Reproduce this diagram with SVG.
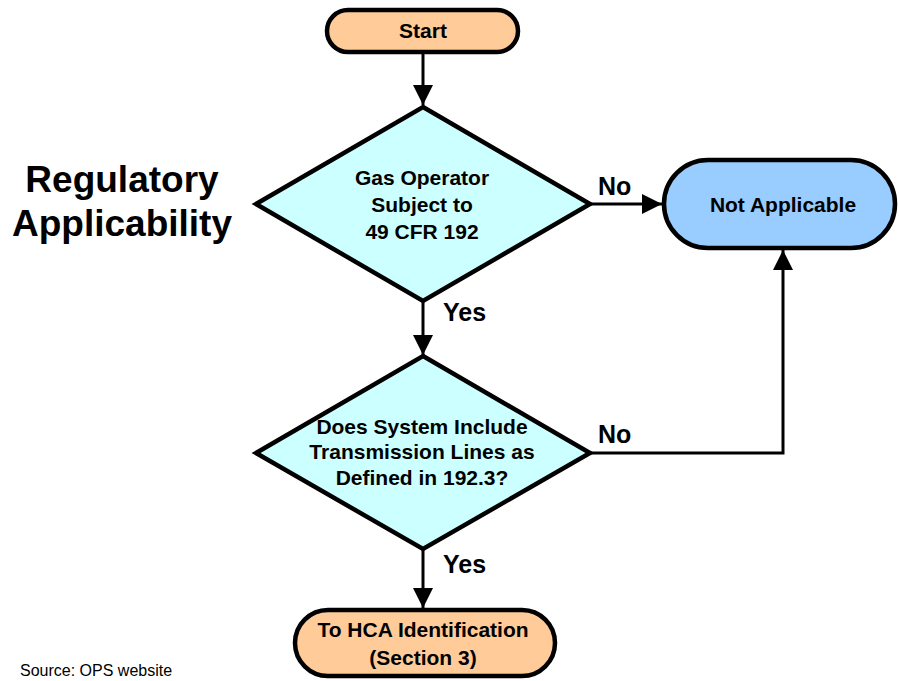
<svg xmlns="http://www.w3.org/2000/svg" width="899" height="681" viewBox="0 0 899 681">
  <style>
    .terminal-orange { fill: #FFCC99; stroke: #000; stroke-width: 4.5; }
    .terminal-blue { fill: #99CCFF; stroke: #000; stroke-width: 4.5; }
    .decision { fill: #CCFFFF; stroke: #000; stroke-width: 4.5; stroke-linejoin: miter; }
    .wire { fill: none; stroke: #000; stroke-width: 3; }
    .label { font-family: "Liberation Sans", Arial, sans-serif; font-weight: bold; font-size: 21px; fill: #000; text-anchor: middle; }
    .branch { font-family: "Liberation Sans", Arial, sans-serif; font-weight: bold; font-size: 25px; fill: #000; }
    .title { font-family: "Liberation Sans", Arial, sans-serif; font-weight: bold; font-size: 37px; fill: #000; text-anchor: middle; }
    .note { font-family: "Liberation Sans", Arial, sans-serif; font-size: 16px; fill: #000; }
  </style>
  <defs>
    <marker id="arrow" markerUnits="userSpaceOnUse" markerWidth="20" markerHeight="20" viewBox="0 0 20 20" refX="20" refY="10" orient="auto">
      <path d="M0,0 L20,10 L0,20 Z" fill="#000"/>
    </marker>
  </defs>

  <rect width="899" height="681" fill="#fff"/>

  <!-- heading -->
  <text class="title" x="122" y="192">Regulatory</text>
  <text class="title" x="122" y="236">Applicability</text>

  <!-- connectors -->
  <g id="connectors">
    <line class="wire" x1="423" y1="53" x2="423" y2="105" marker-end="url(#arrow)"/>
    <line class="wire" x1="423" y1="301" x2="423" y2="355" marker-end="url(#arrow)"/>
    <line class="wire" x1="590" y1="204" x2="662" y2="204" marker-end="url(#arrow)"/>
    <polyline class="wire" points="590,453 783,453 783,250" marker-end="url(#arrow)"/>
    <line class="wire" x1="423" y1="549" x2="423" y2="608" marker-end="url(#arrow)"/>
    <text class="branch" x="443" y="321">Yes</text>
    <text class="branch" x="598" y="195">No</text>
    <text class="branch" x="598" y="443">No</text>
    <text class="branch" x="443" y="573">Yes</text>
  </g>

  <!-- nodes -->
  <g id="start">
    <rect class="terminal-orange" x="327" y="10" width="191" height="42" rx="21"/>
    <text class="label" x="423" y="38">Start</text>
  </g>

  <g id="subject-to-cfr">
    <polygon class="decision" points="423,107 590,204 423,301 256,204"/>
    <text class="label" x="422" y="185">Gas Operator</text>
    <text class="label" x="422" y="212">Subject to</text>
    <text class="label" x="422" y="239">49 CFR 192</text>
  </g>

  <g id="not-applicable">
    <rect class="terminal-blue" x="664" y="160" width="231" height="88" rx="44"/>
    <text class="label" x="783" y="212">Not Applicable</text>
  </g>

  <g id="transmission-lines">
    <polygon class="decision" points="423,356 590,453 423,549 256,453"/>
    <text class="label" x="422" y="434">Does System Include</text>
    <text class="label" x="422" y="459">Transmission Lines as</text>
    <text class="label" x="422" y="485">Defined in 192.3?</text>
  </g>

  <g id="hca-identification">
    <rect class="terminal-orange" x="295" y="610" width="260" height="66" rx="33"/>
    <text class="label" x="423" y="637">To HCA Identification</text>
    <text class="label" x="423" y="665">(Section 3)</text>
  </g>

  <text class="note" x="20" y="676">Source: OPS website</text>
</svg>
